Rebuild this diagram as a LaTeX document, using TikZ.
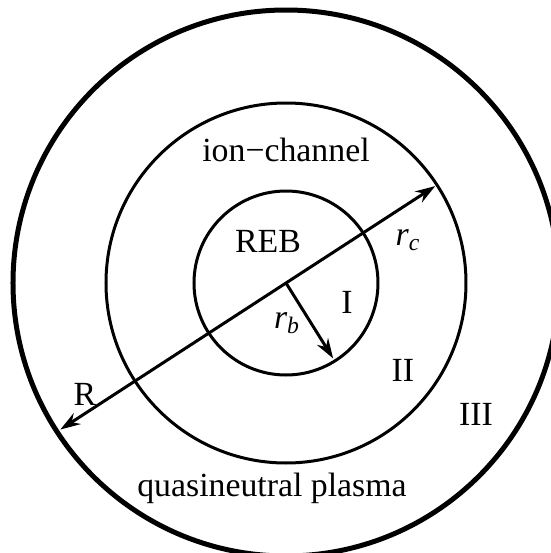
\documentclass[tikz,border=0pt]{standalone}
\usepackage{fontspec}
\setmainfont{Liberation Serif}
\usetikzlibrary{arrows.meta}

\tikzset{
  ring/.style={line width=1.5pt},
  outerring/.style={line width=2.5pt},
  radius arrow/.style={line width=1.5pt, <->},
  region/.style={font=\fontsize{16.9}{18}\selectfont, inner sep=0pt}
}

\begin{document}
\begin{tikzpicture}[x=0.5pt, y=0.5pt, >={Stealth[length=10pt, width=6.5pt]}]
  \useasboundingbox (-286,283) rectangle (265,-270);
  \clip (-286,283) rectangle (265,-270);
  \coordinate (o) at (0,0);
  % the three regions
  \draw[outerring] (o) circle [radius=273];
  \draw[ring] (o) circle [radius=180];
  \draw[ring] (o) circle [radius=92];
  % radii
  \coordinate (rcend) at (33:178);
  \coordinate (Rend) at (213:269);
  \coordinate (rbend) at (-58:89);
  \draw[radius arrow] (Rend) -- (rcend);
  \draw[line width=1.5pt, ->] (o) -- (rbend);
  % labels
  \node[region] (chan) at (0,133) {ion−channel};
  \node[region] (reb) at (-18,42) {REB};
  \node[region] (rc) at (122,43) {\itshape r\textsubscript{c}};
  \node[region] (one) at (61,-19) {I};
  \node[region] (rb) at (1,-40) {\itshape r\textsubscript{b}};
  \node[region] (two) at (117,-87) {II};
  \node[region] (bigR) at (-201,-111) {R};
  \node[region] (three) at (190,-131) {III};
  \node[region] (plasma) at (-14,-205) {quasineutral plasma};
\end{tikzpicture}
\end{document}
